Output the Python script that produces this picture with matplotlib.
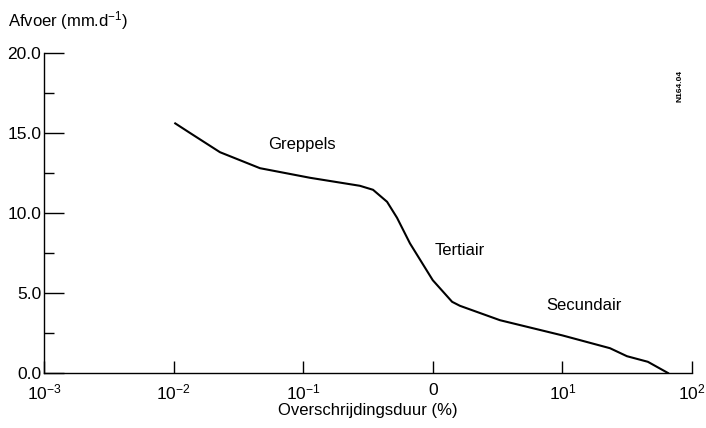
import numpy as np
import matplotlib
matplotlib.use('Agg')
import matplotlib.pyplot as plt
from matplotlib.ticker import FixedLocator, MultipleLocator

# data (duration in %, discharge in mm/d)
duur = [0.0103, 0.0134, 0.0228, 0.0464, 0.113, 0.274, 0.346, 0.444, 0.530,
        0.667, 1.0, 1.41, 1.62, 3.30, 10.0, 23.3, 31.5, 45.7, 65.3]
afvoer = [15.6, 15.0, 13.8, 12.8, 12.2, 11.7, 11.45, 10.7, 9.7,
          8.1, 5.8, 4.45, 4.2, 3.3, 2.35, 1.55, 1.05, 0.7, 0.0]

xticks = [1e-3, 1e-2, 1e-1, 1e0, 1e1, 1e2]
xticklabels = [r'10$^{-3}$', r'10$^{-2}$', r'10$^{-1}$', '0', r'10$^{1}$', r'10$^{2}$']
yticks = [0.0, 5.0, 10.0, 15.0, 20.0]

labels = ['Greppels', 'Tertiair', 'Secundair']
label_x = [0.098, 1.62, 14.7]
label_y = [14.25, 7.65, 4.2]

plt.rcParams['font.family'] = ['Liberation Sans', 'DejaVu Sans']
plt.rcParams['mathtext.fontset'] = 'custom'
plt.rcParams['mathtext.rm'] = 'Liberation Sans'
plt.rcParams['mathtext.it'] = 'Liberation Sans'

fig = plt.figure(figsize=(7.06, 4.28), dpi=100)
ax = fig.add_axes([0.0623, 0.1285, 0.9178, 0.7477])

ax.plot(duur, afvoer, color='black', lw=1.5)

ax.set_xscale('log')
ax.set_xlim(1e-3, 1e2)
ax.set_ylim(0, 20)
ax.xaxis.set_major_locator(FixedLocator(xticks))
ax.xaxis.set_minor_locator(FixedLocator([]))
ax.set_xticklabels(xticklabels, fontsize=12.5)
ax.set_yticks(yticks)
ax.set_yticklabels([f'{v:.1f}' for v in yticks], fontsize=12.5)
ax.yaxis.set_minor_locator(MultipleLocator(2.5))

ax.tick_params(axis='x', which='major', direction='in', length=9, width=1, pad=7)
ax.tick_params(axis='y', which='major', direction='in', length=14.5, width=1, pad=2)
ax.tick_params(axis='y', which='minor', direction='in', length=7.5, width=1)

for side in ['top', 'right']:
    ax.spines[side].set_visible(False)
for side in ['left', 'bottom']:
    ax.spines[side].set_linewidth(1.0)

for lab, lx, ly in zip(labels, label_x, label_y):
    ax.text(lx, ly, lab, fontsize=12, ha='center', va='center')

fig.text(0.011, 0.953, r'Afvoer (mm.d$^{-1}$)', fontsize=12, ha='left', va='center')
fig.text(0.521, 0.042, 'Overschrijdingsduur (%)', fontsize=12, ha='center', va='center')
fig.text(0.963, 0.80, 'N164.04', fontsize=6, rotation=90, ha='center', va='center',
         fontweight='bold')

plt.savefig('out.png', dpi=100)
